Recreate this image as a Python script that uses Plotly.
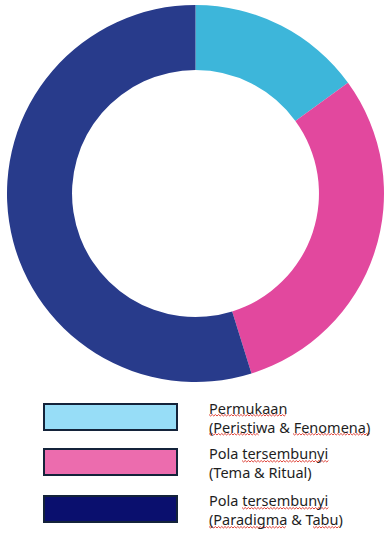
import plotly.graph_objects as go

categories = ["Permukaan (Peristiwa & Fenomena)", "Pola tersembunyi (Tema & Ritual)", "Pola tersembunyi (Paradigma & Tabu)"]
values = [15, 30.2, 54.8]
slice_colors = ["#3DB6DA", "#E2489E", "#283B8B"]
legend_colors = ["#97DDF7", "#EC6CAE", "#0A0F6E"]
legend_line1 = ["Permukaan", "Pola tersembunyi", "Pola tersembunyi"]
legend_line2 = ["(Peristiwa & Fenomena)", "(Tema & Ritual)", "(Paradigma & Tabu)"]

W, H = 391, 533
fig = go.Figure()
fig.add_trace(go.Pie(
    labels=categories, values=values, hole=0.655, sort=False,
    direction="clockwise", rotation=0,
    marker=dict(colors=slice_colors, line=dict(width=0)),
    textinfo="none", hoverinfo="label+percent", showlegend=False,
    domain=dict(x=[7 / W, 384 / W], y=[1 - 382 / H, 1 - 5 / H]),
))

box_tops = [404, 449, 496]
shapes = []
annotations = []
for i, top in enumerate(box_tops):
    shapes.append(dict(type="rect", xref="paper", yref="paper",
                       x0=44 / W, x1=177 / W, y0=1 - (top + 26) / H, y1=1 - top / H,
                       fillcolor=legend_colors[i], line=dict(color="#14233A", width=2)))
    annotations.append(dict(xref="paper", yref="paper", x=207 / W, y=1 - (top - 8) / H,
                            xanchor="left", yanchor="top", showarrow=False, align="left",
                            text=legend_line1[i] + "<br>" + legend_line2[i],
                            font=dict(family="Noto Sans", size=14.5, color="#1E1E1E")))

# spell-check style red wavy underlines (decoration seen in the reference)
def wavy(x0, x1, y):
    pts = []
    x = x0
    k = 0
    while x <= x1:
        yy = y + (1 if k % 2 else -0.5)
        pts.append((x / W, 1 - yy / H))
        x += 1.6
        k += 1
    d = "M " + " L ".join(f"{px:.5f},{py:.5f}" for px, py in pts)
    return dict(type="path", xref="paper", yref="paper", path=d,
                line=dict(color="#E0443A", width=1))

for (a, b, y) in [(209, 287, 415), (209, 259, 434), (293, 371, 434),
                  (242, 330, 461), (242, 330, 508), (209, 287, 527), (313, 340, 527)]:
    shapes.append(wavy(a, b, y))

fig.update_layout(width=W, height=H, margin=dict(l=0, r=0, t=0, b=0),
                  paper_bgcolor="white", plot_bgcolor="white",
                  shapes=shapes, annotations=annotations)
fig.write_html("out.html", config={"displayModeBar": False},
               post_script="document.body.style.margin='0';document.body.style.overflow='hidden';")
